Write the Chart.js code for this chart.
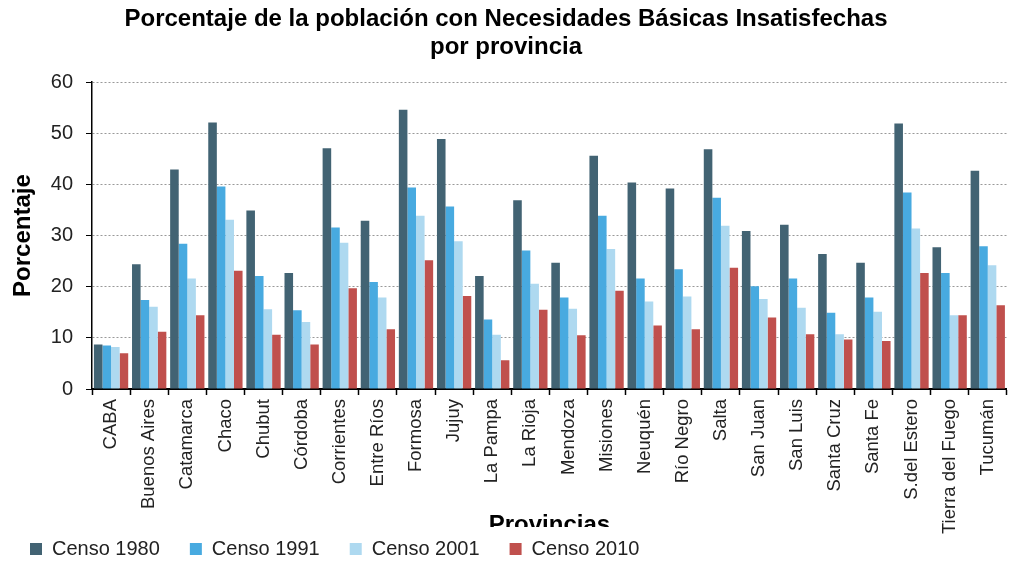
<!DOCTYPE html>
<html>
<head>
<meta charset="utf-8">
<script src="https://cdn.jsdelivr.net/npm/chart.js@4/dist/chart.umd.min.js"></script>
<style>
  html, body { margin: 0; padding: 0; background: #fff; }
  #wrap { width: 1014px; height: 565px; position: relative; }
</style>
</head>
<body>
<div id="wrap"><canvas id="nbiChart"></canvas></div>
<script>
const provincias = ['CABA', 'Buenos Aires', 'Catamarca', 'Chaco', 'Chubut', 'Córdoba', 'Corrientes',
    'Entre Ríos', 'Formosa', 'Jujuy', 'La Pampa', 'La Rioja', 'Mendoza', 'Misiones', 'Neuquén',
    'Río Negro', 'Salta', 'San Juan', 'San Luis', 'Santa Cruz', 'Santa Fe', 'S.del Estero',
    'Tierra del Fuego', 'Tucumán'];

const censo1980 = [8.7, 24.4, 42.9, 52.1, 34.9, 22.7, 47.1, 32.9, 54.6, 48.9, 22.1, 36.9,
    24.7, 45.6, 40.4, 39.2, 46.9, 30.9, 32.1, 26.4, 24.7, 51.9, 27.7, 42.7];
const censo1991 = [8.5, 17.4, 28.4, 39.6, 22.1, 15.4, 31.6, 20.9, 39.4, 35.7, 13.6, 27.1,
    17.9, 33.9, 21.6, 23.4, 37.4, 20.1, 21.6, 14.9, 17.9, 38.4, 22.7, 27.9];
const censo2001 = [8.2, 16.1, 21.6, 33.1, 15.6, 13.1, 28.6, 17.9, 33.9, 28.9, 10.6, 20.6,
    15.7, 27.4, 17.1, 18.1, 31.9, 17.6, 15.9, 10.7, 15.1, 31.4, 14.4, 24.2];
const censo2010 = [7.0, 11.2, 14.4, 23.1, 10.6, 8.7, 19.7, 11.7, 25.2, 18.2, 5.6, 15.5,
    10.5, 19.2, 12.4, 11.7, 23.7, 14.0, 10.7, 9.7, 9.4, 22.7, 14.4, 16.4];

const yTicks = [0, 10, 20, 30, 40, 50, 60];

const font = 'Liberation Sans, Arial, sans-serif';

// long province names run past the axis box into the legend's top padding,
// so let the x labels draw without the scale clip
const longLabels = {
    id: 'longLabels',
    beforeDraw(chart) {
        chart.scales.x._computeLabelArea = () => null;
    },
    // the legend box hides the lower part of the x axis title, like in the original
    afterDraw(chart) {
        const x = chart.scales.x;
        const lg = chart.legend;
        const cx = (x.left + x.right) / 2;
        chart.ctx.save();
        chart.ctx.fillStyle = '#fff';
        chart.ctx.fillRect(cx - 80, lg.top + 18, 160, 12);
        chart.ctx.restore();
    }
};

const ctx = document.getElementById('nbiChart').getContext('2d');

new Chart(ctx, {
    type: 'bar',
    data: {
        labels: provincias,
        datasets: [
            { label: 'Censo 1980', data: censo1980, backgroundColor: '#426373' },
            { label: 'Censo 1991', data: censo1991, backgroundColor: '#48aae0' },
            { label: 'Censo 2001', data: censo2001, backgroundColor: '#aed9f0' },
            { label: 'Censo 2010', data: censo2010, backgroundColor: '#c0504d' }
        ]
    },
    plugins: [longLabels],
    options: {
        responsive: true,
        maintainAspectRatio: false,
        animation: false,
        datasets: {
            bar: { categoryPercentage: 0.9, barPercentage: 1.0 }
        },
        layout: { padding: { left: 0, right: 2, top: 0, bottom: 0 } },
        plugins: {
            title: {
                display: true,
                text: ['Porcentaje de la población con Necesidades Básicas Insatisfechas', 'por provincia'],
                color: '#000',
                font: { family: font, size: 24, weight: 'bold', lineHeight: 1.17 },
                padding: { top: 5, bottom: 21 }
            },
            legend: {
                position: 'bottom',
                align: 'start',
                maxHeight: 56,
                labels: {
                    color: '#222',
                    font: { family: font, size: 20 },
                    boxWidth: 12,
                    boxHeight: 12,
                    padding: 30
                }
            },
            tooltip: { enabled: false }
        },
        scales: {
            x: {
                afterFit: scale => { scale.height = 120; },
                title: {
                    display: true,
                    text: 'Provincias',
                    color: '#000',
                    font: { family: font, size: 24, weight: 'bold' },
                    padding: { top: 0, bottom: -31 }
                },
                ticks: {
                    color: '#222',
                    font: { family: font, size: 18.5 },
                    minRotation: 90,
                    maxRotation: 90,
                    autoSkip: false,
                    padding: 4
                },
                grid: {
                    offset: true,
                    drawOnChartArea: false,
                    drawTicks: true,
                    tickLength: 6,
                    tickColor: '#000',
                    tickWidth: 1.5
                },
                border: { display: true, color: '#000', width: 2 }
            },
            y: {
                min: 0,
                max: 60,
                afterBuildTicks: axis => { axis.ticks = yTicks.map(v => ({ value: v })); },
                afterFit: scale => { scale.width = 92; },
                title: {
                    display: true,
                    text: 'Porcentaje',
                    color: '#000',
                    font: { family: font, size: 24, weight: 'bold' },
                    padding: { top: 9, bottom: 0 }
                },
                ticks: {
                    color: '#222',
                    font: { family: font, size: 20 },
                    padding: 13
                },
                grid: {
                    color: '#999',
                    tickColor: '#000',
                    tickLength: 6,
                    lineWidth: 1
                },
                border: { display: true, color: '#000', width: 1.5, dash: [2, 2] }
            }
        }
    }
});
</script>
</body>
</html>
